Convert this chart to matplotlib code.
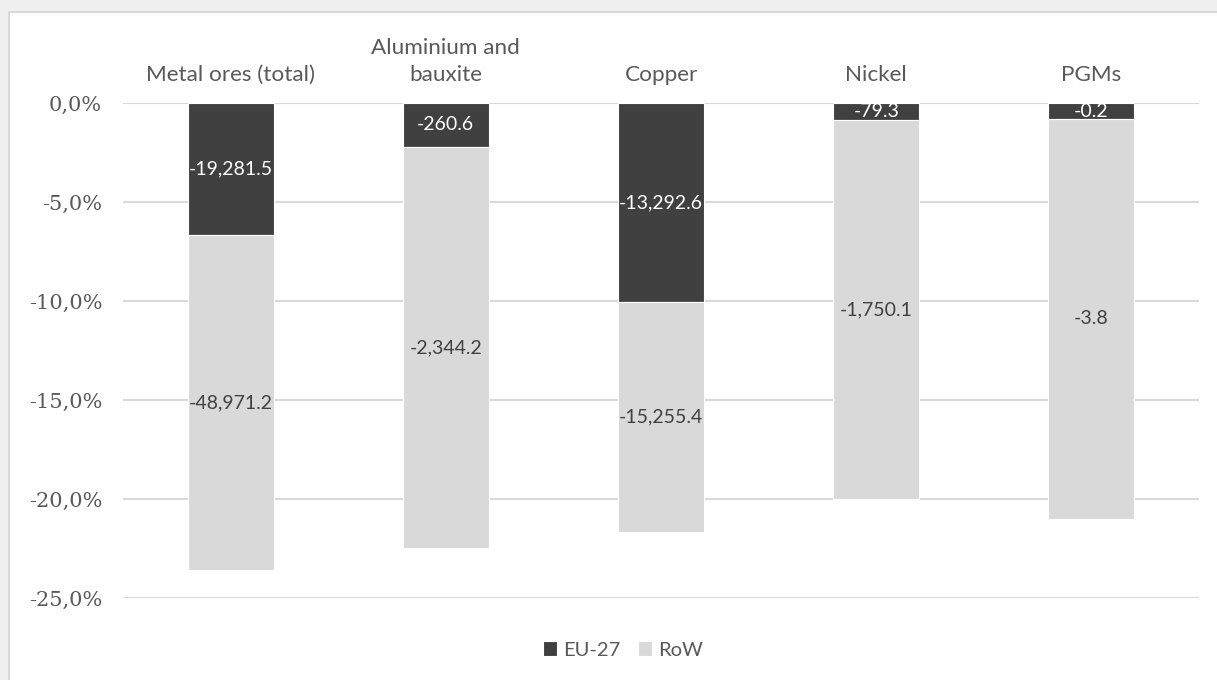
import matplotlib
matplotlib.use('Agg')
from matplotlib import pyplot as plt
from matplotlib.patches import Rectangle
from matplotlib.ticker import FuncFormatter, FixedLocator
import numpy as np

# data (bar lengths in %, labels are the absolute values)
categories = ['Metal ores (total)', 'Aluminium and\nbauxite', 'Copper', 'Nickel', 'PGMs']
eu_pct = [-6.65, -2.19, -10.02, -0.84, -0.80]
row_pct = [-16.92, -20.28, -11.62, -19.16, -20.18]
eu_labels = ['-19,281.5', '-260.6', '-13,292.6', '-79.3', '-0.2']
row_labels = ['-48,971.2', '-2,344.2', '-15,255.4', '-1,750.1', '-3.8']
y_ticks = [0, -5, -10, -15, -20, -25]

TXT = '#595959'
DARK = '#404040'
LIGHT = '#d9d9d9'

plt.rcParams['font.family'] = ['Lato', 'DejaVu Sans']

W, H = 1217, 680
fig = plt.figure(figsize=(W / 100, H / 100), dpi=100, facecolor='#f0f0f0')
# white chart area with light border
fig.patches.append(Rectangle((9 / W, -0.1), 1.2, 1 - 12 / H + 0.1,
                             transform=fig.transFigure, facecolor='white',
                             edgecolor='#d9d9d9', linewidth=1.5, zorder=-5))

ax = fig.add_axes([123 / W, 1 - 598.3 / H, (1199 - 123) / W, (598.3 - 103.3) / H])
ax.set_zorder(2)
ax.set_facecolor('none')

x = np.arange(len(categories))
b1 = ax.bar(x, eu_pct, width=0.4, color=DARK, edgecolor='white', linewidth=0.8,
            label='EU-27', zorder=3)
b2 = ax.bar(x, row_pct, width=0.4, bottom=eu_pct, color=LIGHT, edgecolor='white',
            linewidth=0.8, label='RoW', zorder=3)
ax.bar_label(b1, labels=eu_labels, label_type='center', color='white', fontsize=14)
ax.bar_label(b2, labels=row_labels, label_type='center', color='#404040', fontsize=14)

ax.set_xlim(-0.5, len(categories) - 0.5)
ax.set_ylim(-25, 0)
ax.yaxis.set_major_locator(FixedLocator(y_ticks))
ax.yaxis.set_major_formatter(FuncFormatter(lambda v, p: f'{v:.1f}%'.replace('.', ',')))
ax.grid(axis='y', color=LIGHT, linewidth=1.5, zorder=0)
ax.set_axisbelow(True)
ax.tick_params(axis='y', length=0, pad=15, labelsize=15, labelcolor=TXT)
for lab in ax.get_yticklabels():
    lab.set_family('DejaVu Serif')

ax.xaxis.tick_top()
ax.set_xticks(x)
ax.set_xticklabels(categories, fontsize=16.2, color=TXT, linespacing=1.45)
ax.tick_params(axis='x', length=0, pad=13)
for s in ax.spines.values():
    s.set_visible(False)

fig.legend(handles=[b1, b2], loc='center', bbox_to_anchor=(623 / W, 1 - 650 / H),
           ncol=2, frameon=False, fontsize=14.5, labelcolor=TXT,
           handlelength=0.7, handleheight=0.7, handletextpad=0.3, columnspacing=0.9)

fig.savefig('out.png', dpi=100, facecolor=fig.get_facecolor())
